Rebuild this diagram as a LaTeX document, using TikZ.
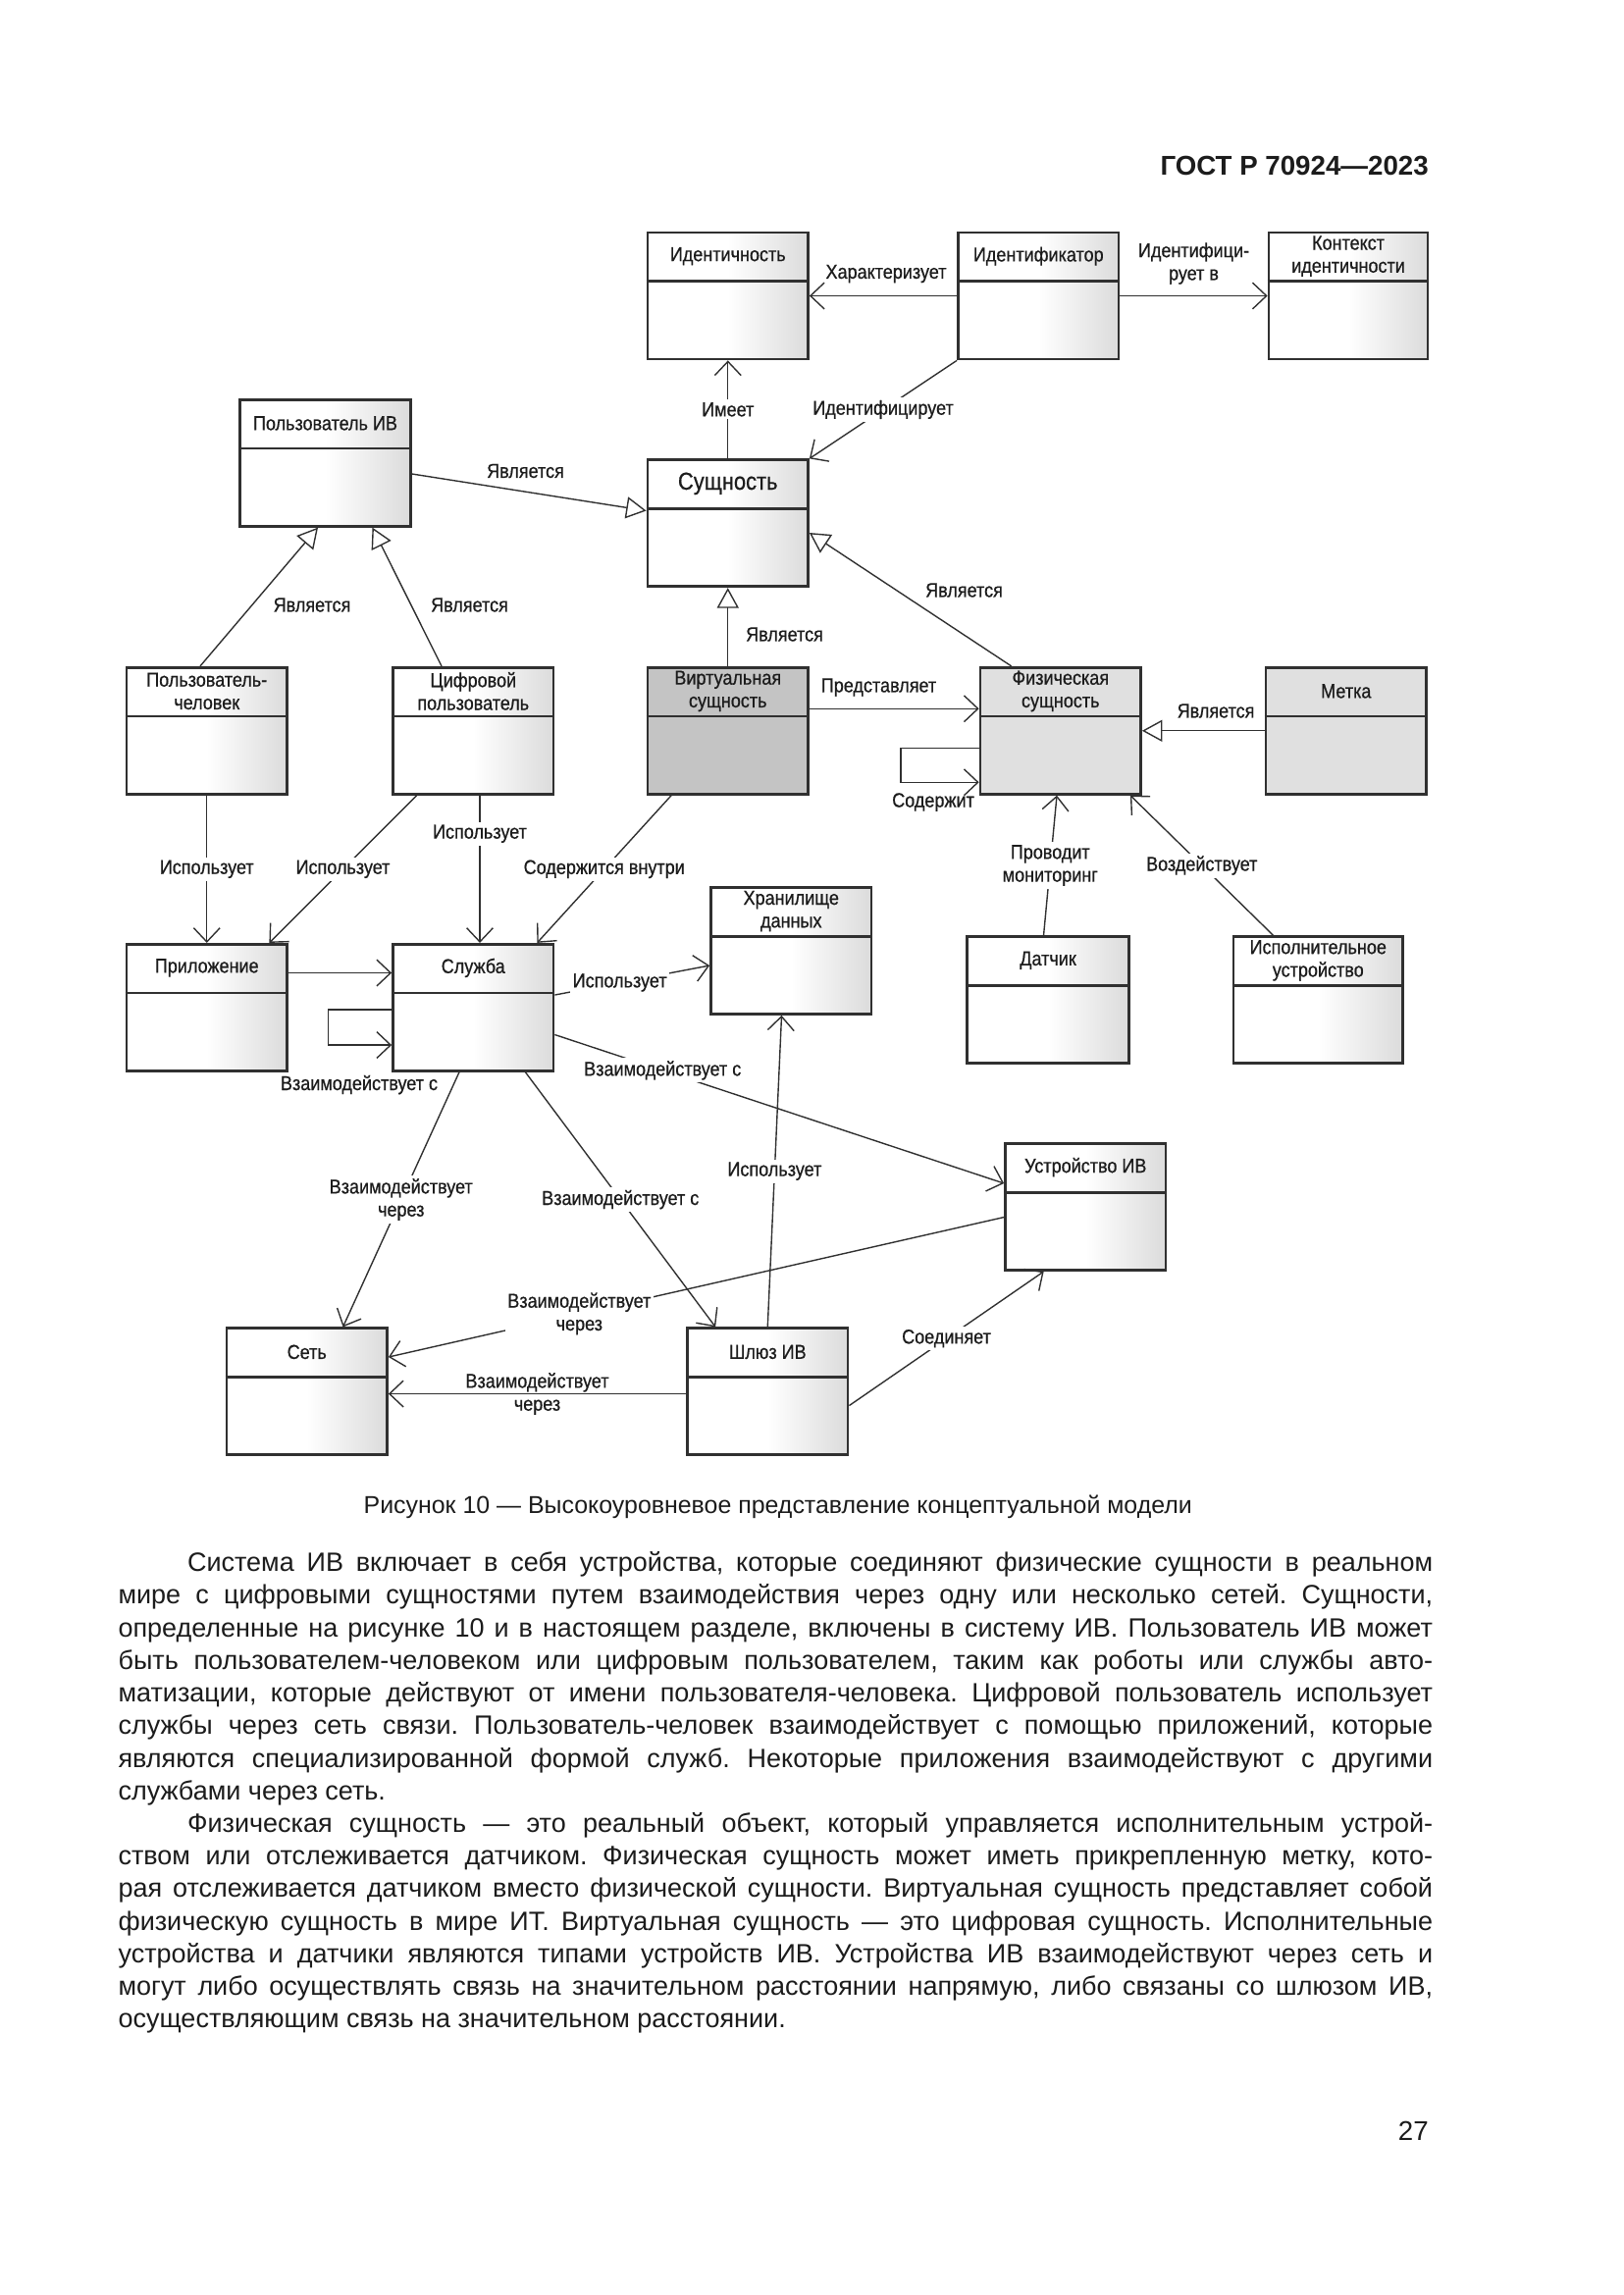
\documentclass[tikz,border=0pt]{standalone}
\usepackage{fontspec}
\setmainfont{Liberation Sans}
\newfontfamily\schema{Liberation Sans}[FakeStretch=0.88, FakeBold=0.6]
\usetikzlibrary{arrows.meta,positioning}

\newlength\upx \setlength\upx{0.19039mm}
\newlength\tete \setlength\tete{34\upx}
\newlength\largeur \setlength\largeur{893\upx}
\newcommand\ligne[1]{\noindent\hbox to\largeur{#1}}
\newcommand\petit{\schema\fontsize{7.4}{8.4}\selectfont}

\definecolor{trait}{HTML}{303030}
\definecolor{encre}{HTML}{1C1C1C}

\tikzset{cadre/.style = {rectangle, draw=trait, line width=1pt, minimum height=86\upx, inner sep=0pt},
         boite/.style = {cadre, left color=white, right color=black!14, middle color=white},
         grise/.style = {cadre, fill=black!23},
         claire/.style = {cadre, fill=black!12},
         titre/.style = {font=\petit, text=encre, align=center, inner sep=0pt},
         lien/.style = {font=\petit, text=encre, align=center, inner sep=1pt},
         blanc/.style = {lien, fill=white},
         fleche/.style = {draw=trait, line width=0.5pt, -{Straight Barb[length=1.8mm,width=3.4mm]}},
         herite/.style = {draw=trait, line width=0.5pt, -{Triangle[open,length=2.6mm,width=2.8mm,fill=white]}}
        }

\newcommand\classe[5][boite]{%
  \node[#1, minimum width=#4\upx] (#2) at (#3) {};
  \draw[trait, line width=1pt] ([yshift=-\tete]#2.north west) -- ([yshift=-\tete]#2.north east);
  \node[titre] (#2-t) at ([yshift=-0.5\tete]#2.north) {#5};}

\begin{document}
\begin{tikzpicture}[x=1\upx, y=-1\upx]
  \useasboundingbox[fill=white] (0,0) rectangle (1102.7,1559.3);
  \node[anchor=base east, font=\bfseries\fontsize{10}{12}\selectfont, text=encre] (gost) at (977,118.7) {ГОСТ Р 70924—2023};

  \classe{identite}{494.5,201}{109}{Идентичность}
  \classe{identifiant}{705.5,201}{109}{Идентификатор}
  \classe{contexte}{916,201}{108}{Контекст\\идентичности}
  \classe{utilisateur}{221,314.5}{116}{Пользователь ИВ}
  \classe{entite}{494.5,355.5}{109}{\fontsize{9}{10}\selectfont Сущность}
  \classe{humain}{140.5,496.5}{109}{Пользователь-\\человек}
  \classe{numerique}{321.5,496.5}{109}{Цифровой\\пользователь}
  \classe[grise]{virtuelle}{494.5,496.5}{109}{Виртуальная\\сущность}
  \classe[claire]{physique}{720.5,496.5}{109}{Физическая\\сущность}
  \classe[claire]{etiquette}{914.5,496.5}{109}{Метка}
  \classe{stockage}{537.5,646}{109}{Хранилище\\данных}
  \classe{application}{140.5,684.5}{109}{Приложение}
  \classe{service}{321.5,684.5}{109}{Служба}
  \classe{capteur}{712,679.5}{110}{Датчик}
  \classe{actionneur}{895.5,679.5}{115}{Исполнительное\\устройство}
  \classe{dispositif}{737.5,820}{109}{Устройство ИВ}
  \classe{reseau}{208.5,945.5}{109}{Сеть}
  \classe{passerelle}{521.5,945.5}{109}{Шлюз ИВ}

  \draw[fleche] (identifiant.west) -- (identite.east);
  \draw[fleche] (identifiant.east) -- (contexte.west);
  \draw[fleche] (identifiant.south west) -- node[blanc] (l-idf) {Идентифицирует} (entite.north east);
  \draw[fleche] (entite.north) -- node[blanc] (l-has) {Имеет} (identite.south);
  \draw[herite] ([yshift=-7.5\upx]utilisateur.east) -- ([yshift=8.5\upx]entite.west);
  \draw[herite] ([xshift=-4.5\upx]humain.north) -- ([xshift=-5\upx]utilisateur.south);
  \draw[herite] ([xshift=-21.5\upx]numerique.north) -- ([xshift=32\upx]utilisateur.south);
  \draw[herite] (virtuelle.north) -- (entite.south);
  \draw[herite] ([xshift=22\upx]physique.north west) -- ([yshift=-6.5\upx]entite.east);
  \draw[fleche] ([yshift=15\upx]virtuelle.east) -- ([yshift=15\upx]physique.west);
  \draw[fleche] ([yshift=-12\upx]physique.west) -- ++(-53,0) |- ([yshift=-35\upx]physique.west);
  \draw[herite] (etiquette.west) -- (physique.east);
  \draw[fleche] ([xshift=-3\upx]capteur.north) -- node[blanc] (l-mon) {Проводит\\мониторинг} ([xshift=-2.5\upx]physique.south);
  \draw[fleche] ([xshift=28\upx]actionneur.north west) -- node[blanc] (l-act) {Воздействует} ([xshift=-8\upx]physique.south east);
  \draw[fleche] (humain.south) -- node[blanc] (l-use1) {Использует} (application.north);
  \draw[fleche] ([xshift=17\upx]numerique.south west) -- node[blanc] (l-use2) {Использует} ([xshift=-13\upx]application.north east);
  \draw[fleche] ([xshift=4.5\upx]numerique.south) -- node[blanc, pos=0.26] (l-use3) {Использует} ([xshift=4.5\upx]service.north);
  \draw[fleche] ([xshift=17\upx]virtuelle.south west) -- node[blanc] (l-in) {Содержится внутри} ([xshift=-12\upx]service.north east);
  \draw[fleche] ([yshift=23.5\upx]application.east) -- ([yshift=23.5\upx]service.west);
  \draw[fleche] ([yshift=-1.5\upx]service.west) -- ++(-43,0) |- ([yshift=-25.5\upx]service.west);
  \draw[fleche] ([yshift=8.5\upx]service.east) -- node[blanc, pos=0.42] (l-use4) {Использует} ([yshift=-10\upx]stockage.west);
  \draw[fleche] ([yshift=-18.5\upx]service.east) -- node[blanc, pos=0.24] (l-int1) {Взаимодействует с} ([yshift=16\upx]dispositif.west);
  \draw[fleche] ([xshift=-9.5\upx]service.south) -- node[blanc] (l-via1) {Взаимодействует\\через} ([xshift=24.5\upx]reseau.north);
  \draw[fleche] ([xshift=-20\upx]service.south east) -- node[blanc] (l-int2) {Взаимодействует с} ([xshift=20\upx]passerelle.north west);
  \draw[fleche] (passerelle.north) -- node[blanc] (l-use5) {Использует} ([xshift=-6.5\upx]stockage.south);
  \draw[fleche] ([yshift=-7\upx]dispositif.west) -- node[blanc, pos=0.69] (l-via2) {Взаимодействует\\через} ([yshift=23.5\upx]reseau.east);
  \draw[fleche] ([yshift=-1.5\upx]passerelle.west) -- node[lien] (l-via3) {Взаимодействует\\через} ([yshift=-1.5\upx]reseau.east);
  \draw[fleche] ([yshift=-9.5\upx]passerelle.east) -- node[blanc] (l-join) {Соединяет} ([xshift=27\upx]dispositif.south west);

  \node[lien] (l-car) at (602,186) {Характеризует};
  \node[lien] (l-idc) at (811,179) {Идентифици-\\рует в};
  \node[lien] (l-is1) at (357,320) {Является};
  \node[lien] (l-is2) at (212,411) {Является};
  \node[lien] (l-is3) at (319,411) {Является};
  \node[lien] (l-is4) at (533,431) {Является};
  \node[lien] (l-is5) at (655,401) {Является};
  \node[lien] (l-rep) at (597,467) {Представляет};
  \node[lien] (l-cont) at (634,545) {Содержит};
  \node[lien] (l-is6) at (826,483) {Является};
  \node[lien] (l-self) at (244,737) {Взаимодействует с};

  \node[font=\fontsize{9}{11}\selectfont, text=encre] (legende) at (528.5,1024) {Рисунок 10 — Высокоуровневое представление концептуальной модели};

  \node[anchor=north west, inner sep=0pt, text width=\largeur, align=justify, font=\frenchspacing\fontsize{9.75}{12}\selectfont, text=encre] (corps) at (80,1054) {%
\ligne{\hspace*{47\upx}Система ИВ включает в себя устройства, которые соединяют физические сущности в реальном}\\
\ligne{мире с цифровыми сущностями путем взаимодействия через одну или несколько сетей. Сущности,}\\
\ligne{определенные на рисунке 10 и в настоящем разделе, включены в систему ИВ. Пользователь ИВ может}\\
\ligne{быть пользователем-человеком или цифровым пользователем, таким как роботы или службы авто-}\\
\ligne{матизации, которые действуют от имени пользователя-человека. Цифровой пользователь использует}\\
\ligne{службы через сеть связи. Пользователь-человек взаимодействует с помощью приложений, которые}\\
\ligne{являются специализированной формой служб. Некоторые приложения взаимодействуют с другими}\\
службами через сеть.\\
\ligne{\hspace*{47\upx}Физическая сущность — это реальный объект, который управляется исполнительным устрой-}\\
\ligne{ством или отслеживается датчиком. Физическая сущность может иметь прикрепленную метку, кото-}\\
\ligne{рая отслеживается датчиком вместо физической сущности. Виртуальная сущность представляет собой}\\
\ligne{физическую сущность в мире ИТ. Виртуальная сущность — это цифровая сущность. Исполнительные}\\
\ligne{устройства и датчики являются типами устройств ИВ. Устройства ИВ взаимодействуют через сеть и}\\
\ligne{могут либо осуществлять связь на значительном расстоянии напрямую, либо связаны со шлюзом ИВ,}\\
осуществляющим связь на значительном расстоянии.};

  \node[anchor=base east, font=\fontsize{10}{12}\selectfont, text=encre] (page) at (977,1454) {27};
\end{tikzpicture}
\end{document}
